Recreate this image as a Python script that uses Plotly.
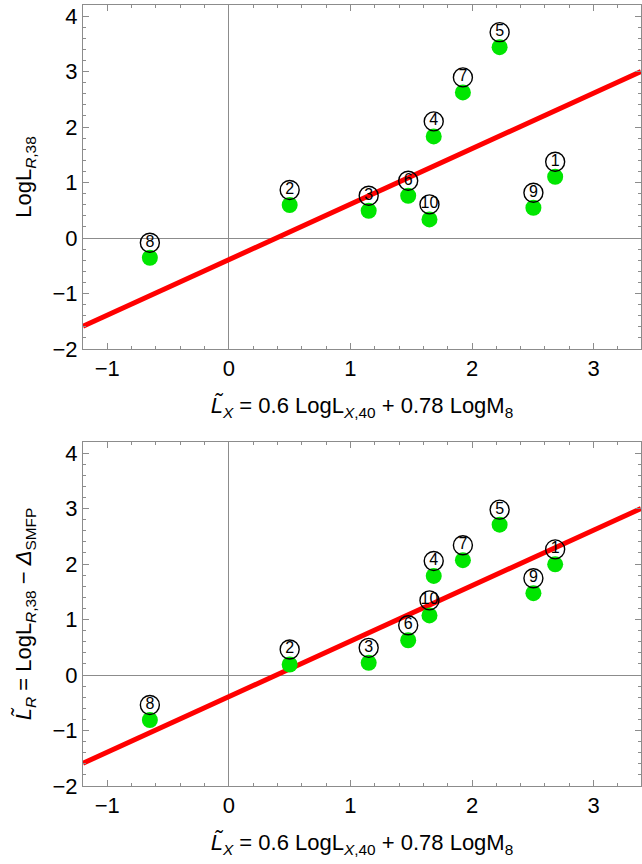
import plotly.graph_objects as go

# ---- data ----
point_ids = [8, 2, 3, 6, 10, 4, 7, 5, 9, 1]
x_vals = [-0.65, 0.50, 1.15, 1.475, 1.65, 1.685, 1.925, 2.227, 2.505, 2.684]
y_top = [-0.355, 0.595, 0.492, 0.762, 0.336, 1.832, 2.625, 3.44, 0.546, 1.105]
y_bottom = [-0.81, 0.19, 0.22, 0.627, 1.075, 1.786, 2.07, 2.71, 1.475, 1.995]
fit_slope = 1.0
fit_intercept = -0.39

x_range = [-1.2, 3.39]
y_range = [-2.0, 4.2]

W, H = 642, 864
M_L, M_R, M_T, M_B = 83, 1, 5, 78
plot_h = 344
paper_h = H - M_T - M_B
frac = plot_h / paper_h

FONT = "Liberation Sans, Arial, sans-serif"
GREEN = "rgb(0,230,0)"
FRAME = "#8c8c8c"

label_dy = 15 * (y_range[1] - y_range[0]) / plot_h

fig = go.Figure()

panels = [("x", "y", y_top), ("x2", "y2", y_bottom)]
for xa, ya, yv in panels:
    lx = list(x_range)
    ly = [fit_slope * v + fit_intercept for v in lx]
    fig.add_trace(go.Scatter(x=lx, y=ly, mode="lines",
                             line=dict(color="red", width=5),
                             xaxis=xa, yaxis=ya, showlegend=False, hoverinfo="skip"))
    fig.add_trace(go.Scatter(x=x_vals, y=yv, mode="markers",
                             marker=dict(color=GREEN, size=16, line=dict(width=0)),
                             xaxis=xa, yaxis=ya, showlegend=False))
    fig.add_trace(go.Scatter(x=x_vals, y=[v + label_dy for v in yv],
                             mode="markers+text",
                             text=[str(i) for i in point_ids],
                             textposition="middle center",
                             textfont=dict(family=FONT, size=16, color="black"),
                             marker=dict(symbol="circle-open", size=19,
                                         color="black", line=dict(width=1.4, color="black")),
                             xaxis=xa, yaxis=ya, showlegend=False, cliponaxis=False))

x_title = ("<i>L\u0303</i><sub><i>X</i></sub> = 0.6 LogL<sub><i>X</i>,40</sub>"
           " + 0.78 LogM<sub>8</sub>")
y_title_top = "LogL<sub><i>R</i>,38</sub>"
y_title_bot = ("<i>L\u0303</i><sub><i>R</i></sub> = LogL<sub><i>R</i>,38</sub>"
               " \u2212 <i>\u0394</i><sub>SMFP</sub>")

def xaxis(anchor):
    return dict(range=x_range, anchor=anchor, showline=True, linecolor=FRAME, linewidth=1,
                mirror="ticks", ticks="inside", ticklen=6, tickcolor=FRAME, tickwidth=1,
                tick0=0, dtick=1, showgrid=False,
                zeroline=True, zerolinecolor=FRAME, zerolinewidth=1,
                minor=dict(dtick=0.2, ticks="inside", ticklen=3, tickcolor=FRAME, showgrid=False),
                tickfont=dict(family=FONT, size=22, color="black"),
                title=dict(text=x_title, font=dict(family=FONT, size=22, color="black"), standoff=17))

def yaxis(anchor, dom, title):
    return dict(range=y_range, anchor=anchor, domain=dom, showline=True, linecolor=FRAME,
                linewidth=1, mirror="ticks", ticks="inside", ticklen=6, tickcolor=FRAME,
                tickwidth=1, tick0=0, dtick=1, showgrid=False,
                zeroline=True, zerolinecolor=FRAME, zerolinewidth=1,
                minor=dict(dtick=0.2, ticks="inside", ticklen=3, tickcolor=FRAME, showgrid=False),
                tickfont=dict(family=FONT, size=22, color="black"),
                title=dict(text=title, font=dict(family=FONT, size=22, color="black"), standoff=14))

fig.update_layout(
    width=W, height=H,
    margin=dict(l=M_L, r=M_R, t=M_T, b=M_B),
    paper_bgcolor="white", plot_bgcolor="white",
    xaxis=xaxis("y"),
    yaxis=yaxis("x", [1 - frac, 1], y_title_top),
    xaxis2=xaxis("y2"),
    yaxis2=yaxis("x2", [0, frac], y_title_bot),
    showlegend=False,
)

fig.write_html("out.html",
               config={"displayModeBar": False},
               post_script="document.body.style.margin='0';document.body.style.overflow='hidden';")
